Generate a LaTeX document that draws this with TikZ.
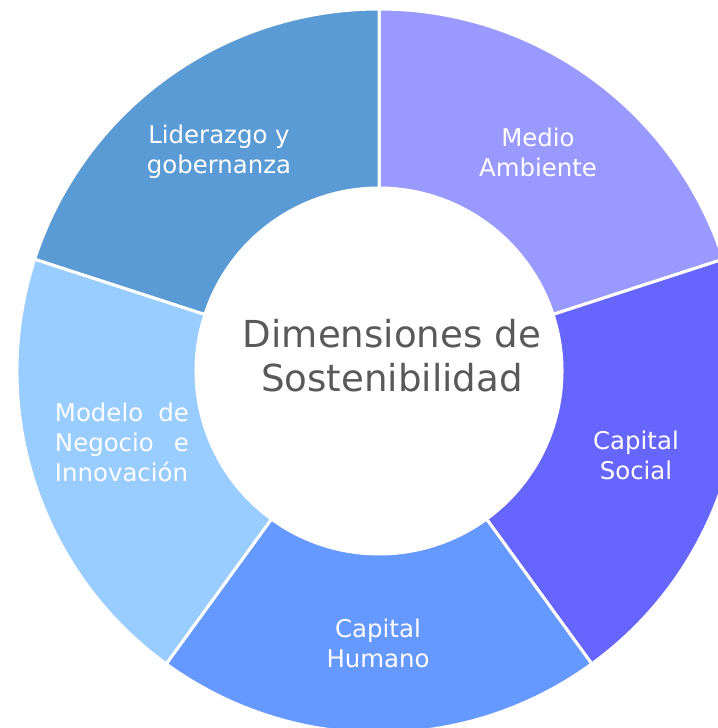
\documentclass[tikz,border=0pt]{standalone}
\usepackage{fontspec}
\setmainfont{DejaVu Sans}
\usepackage{tikz}
\definecolor{medio}{HTML}{9999FF}
\definecolor{social}{HTML}{6666FF}
\definecolor{humano}{HTML}{6699FF}
\definecolor{modelo}{HTML}{99CCFF}
\definecolor{lider}{HTML}{5B9BD5}
\definecolor{txtgray}{HTML}{595959}
\tikzset{
	seglabel/.style={text=white, font=\fontsize{24.5}{30}\selectfont, align=center},
	centerlabel/.style={text=txtgray, font=\fontsize{37.3}{44}\selectfont, align=center}
}

\begin{document}
\begin{tikzpicture}[x=1bp,y=1bp]
	\useasboundingbox (-379,-357) rectangle (339,371);
	%% ring segments
	\foreach \a/\c in {90/medio,18/social,-54/humano,-126/modelo,162/lider}
		\filldraw[fill=\c, draw=white, line width=3bp]
			(\a:183) -- (\a:362) arc[start angle=\a, delta angle=-72, radius=362]
			-- ({\a-72}:183) arc[start angle={\a-72}, delta angle=72, radius=183] -- cycle;
	%% labels
	\node[centerlabel] (centro) at (13,15) {Dimensiones de\\Sostenibilidad};
	\node[seglabel] (medioamb) at (159,219) {Medio\\Ambiente};
	\node[seglabel] (capsocial) at (257,-84) {Capital\\Social};
	\node[seglabel] (caphumano) at (-1,-272) {Capital\\Humano};
	\node[seglabel, align=left] (modneg) at (-257,-71)
		{\parbox{134bp}{\baselineskip=30bp Modelo\hfill de\\Negocio\hfill e\\Innovación}};
	\node[seglabel] (liderazgo) at (-160,219) {Liderazgo y\\gobernanza};
\end{tikzpicture}
\end{document}
